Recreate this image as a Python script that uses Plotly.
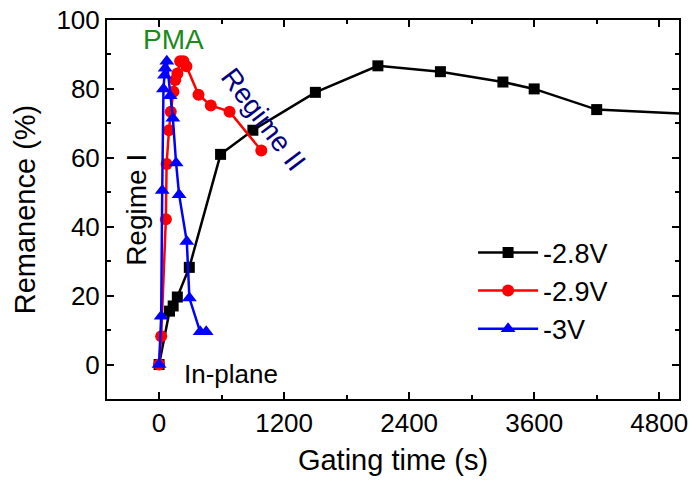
import plotly.graph_objects as go

# -2.8 V
t_28 = [0, 100, 135, 175, 290, 590, 900, 1500, 2100, 2700, 3300, 3600, 4200, 5400]
r_28 = [0, 15.5, 17, 19.6, 28.2, 61, 68, 79, 86.7, 85, 82, 80, 74, 72.3]
# -2.9 V
t_29 = [0, 20, 65, 72, 95, 112, 138, 155, 176, 202, 234, 262, 378, 496, 676, 981]
r_29 = [0, 8.2, 42.2, 58.2, 68, 73.4, 79.2, 82.6, 84.5, 88, 88, 86.6, 78.3, 75.2, 73.4, 62.1]
# -3 V
t_3 = [0, 20, 30, 42, 52, 58, 74, 106, 132, 163, 192, 266, 291, 394, 452]
r_3 = [0, 14, 50.5, 80, 84, 86, 88, 78, 71.5, 58.5, 49.3, 35.7, 19.3, 9.5, 9.5]

x_ticks = [0, 1200, 2400, 3600, 4800]
y_ticks = [0, 20, 40, 60, 80, 100]

FONT = "Liberation Sans, Arial, sans-serif"

fig = go.Figure()
fig.add_trace(go.Scatter(x=t_28, y=r_28, mode="lines+markers", name="-2.8V",
                         line=dict(color="black", width=2.5),
                         marker=dict(symbol="square", size=11, color="black")))
fig.add_trace(go.Scatter(x=t_29, y=r_29, mode="lines+markers", name="-2.9V",
                         line=dict(color="#ff0000", width=2.5),
                         marker=dict(symbol="circle", size=12, color="#ff0000")))
fig.add_trace(go.Scatter(x=t_3, y=r_3, mode="lines+markers", name="-3V",
                         line=dict(color="#0000ff", width=2.5),
                         marker=dict(symbol="triangle-up", size=13, color="#0000ff")))

axis_common = dict(showgrid=False, zeroline=False, showline=True, linecolor="black",
                   linewidth=2, mirror="allticks", ticks="inside", tickcolor="black",
                   tickwidth=1.5, ticklen=7, automargin=False, ticklabeloverflow="allow",
                   tickfont=dict(family=FONT, size=26, color="black"))

fig.update_xaxes(range=[-500, 4990], tickvals=x_ticks,
                 minor=dict(dtick=600, tick0=0, ticks="inside", ticklen=4, tickcolor="black"),
                 title=dict(text="Gating time (s)", font=dict(family=FONT, size=29, color="black"),
                            standoff=12),
                 **axis_common)
fig.update_yaxes(range=[-10, 100], tickvals=y_ticks,
                 minor=dict(dtick=10, tick0=0, ticks="inside", ticklen=4, tickcolor="black"),
                 title=dict(text="Remanence (%)", font=dict(family=FONT, size=29, color="black"),
                            standoff=12),
                 **axis_common)

fig.add_annotation(x=135, y=94.2, text="PMA", showarrow=False,
                   font=dict(family=FONT, size=28, color="#1a8a1a"))
fig.add_annotation(x=-212, y=44.9, text="Regime I", showarrow=False, textangle=-90,
                   font=dict(family=FONT, size=28, color="black"))
fig.add_annotation(x=1000, y=71, text="Regime II", showarrow=False, textangle=53,
                   font=dict(family=FONT, size=28, color="#000080"))
fig.add_annotation(x=692, y=-2.6, text="In-plane", showarrow=False,
                   font=dict(family=FONT, size=26, color="black"))

fig.update_layout(
    width=698, height=482,
    margin=dict(l=107, r=19, t=20, b=83),
    paper_bgcolor="white", plot_bgcolor="white",
    font=dict(family=FONT, color="black"),
    legend=dict(x=0.64, y=0.45, xanchor="left", yanchor="top",
                bgcolor="rgba(0,0,0,0)", itemwidth=60,
                font=dict(family=FONT, size=27, color="black")),
)

# remove the default page margin so the figure sits at the window's top-left corner
fig.write_html("out.html", config={"displayModeBar": False},
               post_script="document.body.style.margin='0';")
